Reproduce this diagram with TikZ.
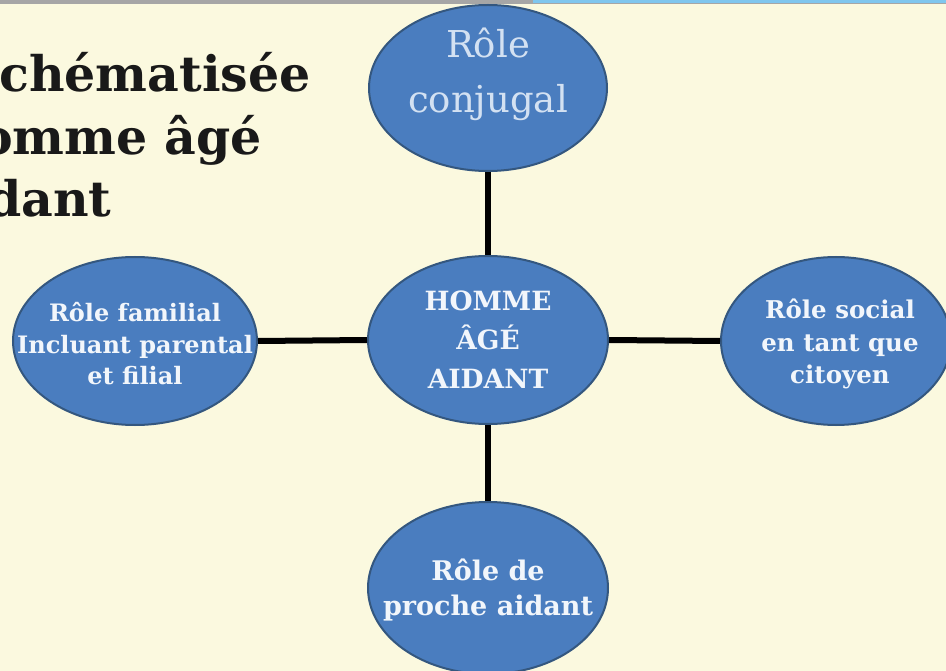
\documentclass[tikz,border=0pt]{standalone}
\usepackage{fontspec}
\setmainfont{DejaVu Serif}
\usetikzlibrary{shapes.geometric}
\definecolor{bgcream}{HTML}{FBF9DF}
\definecolor{ellfill}{HTML}{4A7DBF}
\definecolor{elldraw}{HTML}{34577F}
\definecolor{txtwhite}{HTML}{F2F6FB}
\definecolor{txtlight}{HTML}{D3E1F2}
\definecolor{topblue}{HTML}{7FC6EE}
\tikzset{
  rolebox/.style={ellipse, draw=elldraw, line width=2pt, fill=ellfill, inner sep=0pt},
  roletext/.style={text=txtwhite, align=center, font=\bfseries},
  link/.style={line width=6pt, black},
  titletext/.style={anchor=base west, inner sep=0pt, font=\bfseries\fontsize{49}{50}\selectfont, text=black!90}
}
\begin{document}
\begin{tikzpicture}[x=1pt,y=-1pt]
\clip (0,0) rectangle (946,671);
\fill[bgcream] (0,0) rectangle (946,671);
\fill[gray!70] (0,0) rectangle (946,4);
\fill[topblue] (533,0) rectangle (946,3);

% title (cut off at the left)
\node[titletext] (t1) at (-1,92) {chématisée};
\node[titletext] (t2) at (-20,155) {omme âgé};
\node[titletext] (t3) at (-13,217) {dant};

% ellipses
\node[rolebox, minimum width=238pt, minimum height=166pt] (top) at (488,88) {};
\node[rolebox, minimum width=240pt, minimum height=168pt] (ctr) at (488,340) {};
\node[rolebox, minimum width=244pt, minimum height=168pt] (lft) at (135,341) {};
\node[rolebox, minimum width=230pt, minimum height=168pt] (rgt) at (836,341) {};
\node[rolebox, minimum width=240pt, minimum height=172pt] (bot) at (488,588) {};

% connectors
\draw[link] (top.south) -- (ctr.north);
\draw[link] (ctr.west) -- (lft.east);
\draw[link] (ctr.east) -- (rgt.west);
\draw[link] (ctr.south) -- (bot.north);

% texts
\node[text=txtlight, align=center, font=\fontsize{37}{55}\selectfont] (toptxt) at (top.center) [yshift=14pt] {Rôle\\conjugal};
\node[roletext, font=\bfseries\fontsize{26.5}{39}\selectfont] (ctrtxt) at (ctr.center) [yshift=0pt] {HOMME\\ÂGÉ\\AIDANT};
\node[roletext, font=\bfseries\fontsize{24}{31.5}\selectfont] (lfttxt) at (lft.center) [yshift=-3pt] {Rôle familial\\Incluant parental\\et filial};
\node[roletext, font=\bfseries\fontsize{24.5}{32.5}\selectfont] (rgttxt) at (rgt.center) [xshift=4pt,yshift=-3pt] {Rôle social\\en tant que\\citoyen};
\node[roletext, font=\bfseries\fontsize{27}{35}\selectfont] (bottxt) at (bot.center) [yshift=-2pt] {Rôle de\\proche aidant};
\end{tikzpicture}
\end{document}
